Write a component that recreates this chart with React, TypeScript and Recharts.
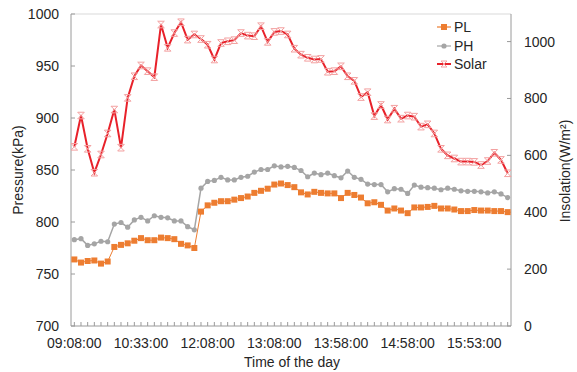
import { Legend, Line, LineChart, ReferenceLine, XAxis, YAxis } from "recharts";

const times = [
  "09:08:00", "09:18:00", "09:28:00", "09:33:00", "09:43:00", "09:53:00", "10:03:00", "10:13:00", "10:18:00", "10:28:00",
  "10:33:00", "10:43:00", "10:53:00", "11:03:00", "11:13:00", "11:23:00", "11:33:00", "11:43:00", "11:53:00", "11:58:00",
  "12:08:00", "12:13:00", "12:18:00", "12:28:00", "12:33:00", "12:38:00", "12:48:00", "12:53:00", "12:58:00", "13:03:00",
  "13:08:00", "13:13:00", "13:18:00", "13:23:00", "13:28:00", "13:33:00", "13:38:00", "13:43:00", "13:48:00", "13:53:00",
  "13:58:00", "14:03:00", "14:08:00", "14:18:00", "14:23:00", "14:28:00", "14:38:00", "14:43:00", "14:48:00", "14:53:00",
  "14:58:00", "15:03:00", "15:08:00", "15:13:00", "15:18:00", "15:23:00", "15:28:00", "15:33:00", "15:38:00", "15:43:00",
  "15:53:00", "15:58:00", "16:03:00", "16:08:00", "16:13:00", "16:18:00",
];

// kPa
const pl = [
  764, 761, 762.5, 763, 760, 762, 776, 778, 779.5, 782, 784.5, 782.5, 782.5, 785, 784.5, 783.5, 779, 777.5, 775,
  810, 816, 818.5, 820, 820, 821.5, 823, 824.5, 828, 830, 832, 836, 837, 835.5, 833.5, 828.5, 826.5, 829, 828,
  827.5, 827.5, 823, 828, 826, 823.5, 818, 819, 816.5, 811, 813, 811, 808.5, 814, 814, 814.5, 815.5, 813, 813,
  812, 810.5, 810.5, 811.5, 811, 811, 810.5, 810.5, 809.5,
];

// kPa
const ph = [
  783, 784, 777.5, 779, 781.5, 781, 798, 799.5, 795, 802, 804.5, 801, 806, 804.5, 804, 801, 801, 795.5, 792.5,
  832.5, 839, 840, 843, 840.5, 840.5, 843, 844, 848, 850.5, 850.5, 854, 853, 853.5, 852.5, 849.5, 843.5, 847,
  845.5, 847, 844.5, 842.5, 849, 843, 841, 836.5, 836, 836, 829, 832, 831.5, 827.5, 835.5, 833.5, 833, 832.5,
  831, 832.5, 831.5, 830, 829.5, 829.5, 829, 828, 829, 827, 823.5,
];

// W/m2
const solar = [
  630, 740, 623, 539, 603, 677, 761, 627, 802, 878, 916, 896, 875, 1060, 978, 1030, 1068, 1007, 1025, 1009,
  989, 937, 995, 1001, 1005, 1030, 1021, 1019, 1054, 999, 1034, 1037, 1025, 975, 954, 943, 937, 939, 894, 896,
  913, 878, 862, 805, 822, 738, 777, 726, 764, 729, 740, 736, 701, 709, 677, 623, 600, 589, 578, 578, 577, 566,
  580, 609, 584, 537,
];

const pressureTicks = [700, 750, 800, 850, 900, 950, 1000];
const solarTicks = [0, 200, 400, 600, 800, 1000];

const data = times.map((time, i) => ({ time, pl: pl[i], ph: ph[i], solar: solar[i] }));

const AXIS = "#9a9a9a";
const PL_COLOR = "#ed7d31";
const PH_COLOR = "#a5a5a5";
const SOLAR_COLOR = "#e8212a";
const SOLAR_MARK = "#f3a0a0";
const font = "'Liberation Sans', Arial, sans-serif";
const tickStyle = { fill: "#262626", fontSize: 14 };

function starPath(cx: number, cy: number, s: number) {
  return `M${cx - s},${cy - s}L${cx + s},${cy + s}M${cx - s},${cy + s}L${cx + s},${cy - s}M${cx - s},${cy - s}L${cx + s},${cy - s}M${cx - s},${cy + s}L${cx + s},${cy + s}`;
}

function SquareDot(props: any) {
  const { cx, cy, index } = props;
  return <rect key={`pl-${index}`} x={cx - 3} y={cy - 3} width={6} height={6} fill={PL_COLOR} />;
}

function CircleDot(props: any) {
  const { cx, cy, index } = props;
  return <circle key={`ph-${index}`} cx={cx} cy={cy} r={2.6} fill={PH_COLOR} />;
}

function StarDot(props: any) {
  const { cx, cy, index } = props;
  return <path key={`s-${index}`} d={starPath(cx, cy, 3.3)} stroke={SOLAR_MARK} strokeWidth={1} fill="none" />;
}

const legendRows = [
  { name: "PL", color: PL_COLOR, kind: "square" },
  { name: "PH", color: PH_COLOR, kind: "circle" },
  { name: "Solar", color: SOLAR_COLOR, kind: "star" },
];

function LegendBox() {
  return (
    <div style={{ fontFamily: font, fontSize: 14, color: "#262626" }}>
      {legendRows.map((row) => (
        <div key={row.name} style={{ display: "flex", alignItems: "center", height: 18.5 }}>
          <svg width={14} height={12} style={{ marginRight: 3 }}>
            <line x1={0} x2={14} y1={6} y2={6} stroke={row.color} strokeWidth={row.kind === "star" ? 2 : 1.2} />
            {row.kind === "square" && <rect x={4} y={3} width={6} height={6} fill={row.color} />}
            {row.kind === "circle" && <circle cx={7} cy={6} r={2.6} fill={row.color} />}
            {row.kind === "star" && <path d={starPath(7, 6, 3)} stroke={SOLAR_MARK} strokeWidth={1} fill="none" />}
          </svg>
          <span>{row.name}</span>
        </div>
      ))}
    </div>
  );
}

export default function App() {
  return (
    <div style={{ position: "absolute", left: 0, top: 0, width: 577, height: 372, background: "#fff", fontFamily: font }}>
      <LineChart width={577} height={372} data={data} margin={{ top: 14, right: 0, bottom: 0, left: 0 }}>
        <XAxis
          dataKey="time"
          interval={0}
          height={46}
          padding={{ left: 3.33, right: 3.33 }}
          stroke={AXIS}
          tickSize={-4}
          tickMargin={16}
          tick={tickStyle}
          tickFormatter={(v: string, i: number) => (i % 10 === 0 ? v : "")}
          label={() => (
            <text x={292} y={367} textAnchor="middle" fontSize={14} fill="#262626">
              Time of the day
            </text>
          )}
        />
        <YAxis
          yAxisId="p"
          width={71}
          domain={[700, 1000]}
          ticks={pressureTicks}
          allowDataOverflow
          stroke={AXIS}
          tickSize={-4}
          tickMargin={16}
          tick={tickStyle}
          label={() => (
            <text x={18} y={170} transform="rotate(-90 18 170)" textAnchor="middle" dominantBaseline="central" fontSize={14} fill="#262626">
              Pressure(kPa)
            </text>
          )}
        />
        <YAxis
          yAxisId="s"
          orientation="right"
          width={66}
          domain={[0, 1097]}
          ticks={solarTicks}
          allowDataOverflow
          stroke={AXIS}
          tickSize={-4}
          tickMargin={17}
          tick={tickStyle}
          label={() => (
            <text x={565} y={171} transform="rotate(-90 565 171)" textAnchor="middle" dominantBaseline="central" fontSize={14} fill="#262626">
              Insolation(W/m²)
            </text>
          )}
        />
        <ReferenceLine yAxisId="p" y={1000} stroke="#d9d9d9" strokeWidth={1} />
        <Legend
          layout="horizontal"
          verticalAlign="middle"
          align="center"
          content={() => <LegendBox />}
          wrapperStyle={{ top: 18, left: 437, width: 90, height: 60 }}
        />
        <Line
          yAxisId="p"
          dataKey="pl"
          name="PL"
          type="linear"
          stroke={PL_COLOR}
          strokeWidth={1}
          dot={SquareDot}
          activeDot={false}
          isAnimationActive={false}
        />
        <Line
          yAxisId="p"
          dataKey="ph"
          name="PH"
          type="linear"
          stroke={PH_COLOR}
          strokeWidth={1.5}
          dot={CircleDot}
          activeDot={false}
          isAnimationActive={false}
        />
        <Line
          yAxisId="s"
          dataKey="solar"
          name="Solar"
          type="linear"
          stroke={SOLAR_COLOR}
          strokeWidth={2}
          dot={StarDot}
          activeDot={false}
          isAnimationActive={false}
        />
      </LineChart>
    </div>
  );
}
